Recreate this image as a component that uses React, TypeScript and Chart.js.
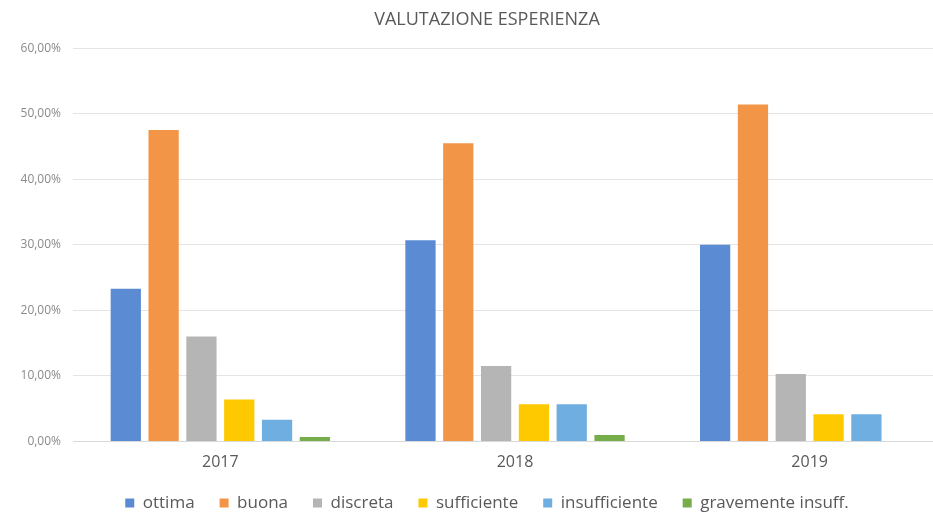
import React, { useEffect, useRef } from "react";
import { Chart, registerables } from "chart.js";

Chart.register(...registerables);

const years = ["2017", "2018", "2019"];
const ottima = [23.3, 30.7, 30.0];
const buona = [47.5, 45.5, 51.4];
const discreta = [16.0, 11.5, 10.3];
const sufficiente = [6.4, 5.7, 4.15];
const insufficiente = [3.3, 5.7, 4.15];
const gravemente = [0.7, 1.0, 0];
const yTicks = [0, 10, 20, 30, 40, 50, 60];

const FONT = "'Open Sans', 'Noto Sans', sans-serif";

export default function App() {
  const ref = useRef<HTMLCanvasElement | null>(null);
  useEffect(() => {
    if (!ref.current) return;
    const chart = new Chart(ref.current, {
      type: "bar",
      data: {
        labels: years,
        datasets: [
          { label: "ottima", data: ottima, backgroundColor: "#5B8BD2" },
          { label: "buona", data: buona, backgroundColor: "#F29547" },
          { label: "discreta", data: discreta, backgroundColor: "#B5B5B5" },
          { label: "sufficiente", data: sufficiente, backgroundColor: "#FFC900" },
          { label: "insufficiente", data: insufficiente, backgroundColor: "#6FAEE0" },
          { label: "gravemente insuff.", data: gravemente, backgroundColor: "#74AD4A" },
        ],
      },
      options: {
        animation: false,
        responsive: true,
        maintainAspectRatio: false,
        layout: { padding: { left: 17, right: 23, top: 0, bottom: -9.5 } },
        datasets: { bar: { categoryPercentage: 0.77, barPercentage: 0.8 } },
        plugins: {
          title: {
            display: true,
            text: "VALUTAZIONE ESPERIENZA",
            color: "#595959",
            font: { family: FONT, size: 18, weight: "normal" },
            padding: { top: 9.5, bottom: 17 },
          },
          legend: {
            position: "bottom",
            labels: {
              color: "#595959",
              font: { family: FONT, size: 17 },
              boxWidth: 9,
              boxHeight: 9,
              padding: 25,
            },
          },
          tooltip: { enabled: false },
        },
        scales: {
          x: {
            grid: { display: false, drawTicks: false },
            border: { display: true, color: "#d9d9d9" },
            ticks: {
              color: "#595959",
              font: { family: FONT, size: 16 },
              padding: 11.5,
            },
            afterFit: (s: any) => {
              s.height = 28;
            },
          },
          y: {
            min: 0,
            max: 60,
            afterBuildTicks: (s: any) => {
              s.ticks = yTicks.map((v) => ({ value: v }));
            },
            grid: { color: "#e4e4e4", drawTicks: false },
            border: { display: false },
            ticks: {
              color: "#8a8a8a",
              font: { family: FONT, size: 12 },
              padding: 12,
              callback: (v: any) => Number(v).toFixed(2).replace(".", ",") + "%",
            },
            afterFit: (s: any) => {
              s.width = 56;
            },
          },
        },
      },
    });
    return () => chart.destroy();
  }, []);
  return (
    <div style={{ position: "fixed", left: 0, top: 0, width: 933, height: 512, overflow: "hidden", background: "#fff" }}>
      <div style={{ position: "relative", width: 980, height: 512 }}>
        <canvas ref={ref} />
      </div>
    </div>
  );
}
